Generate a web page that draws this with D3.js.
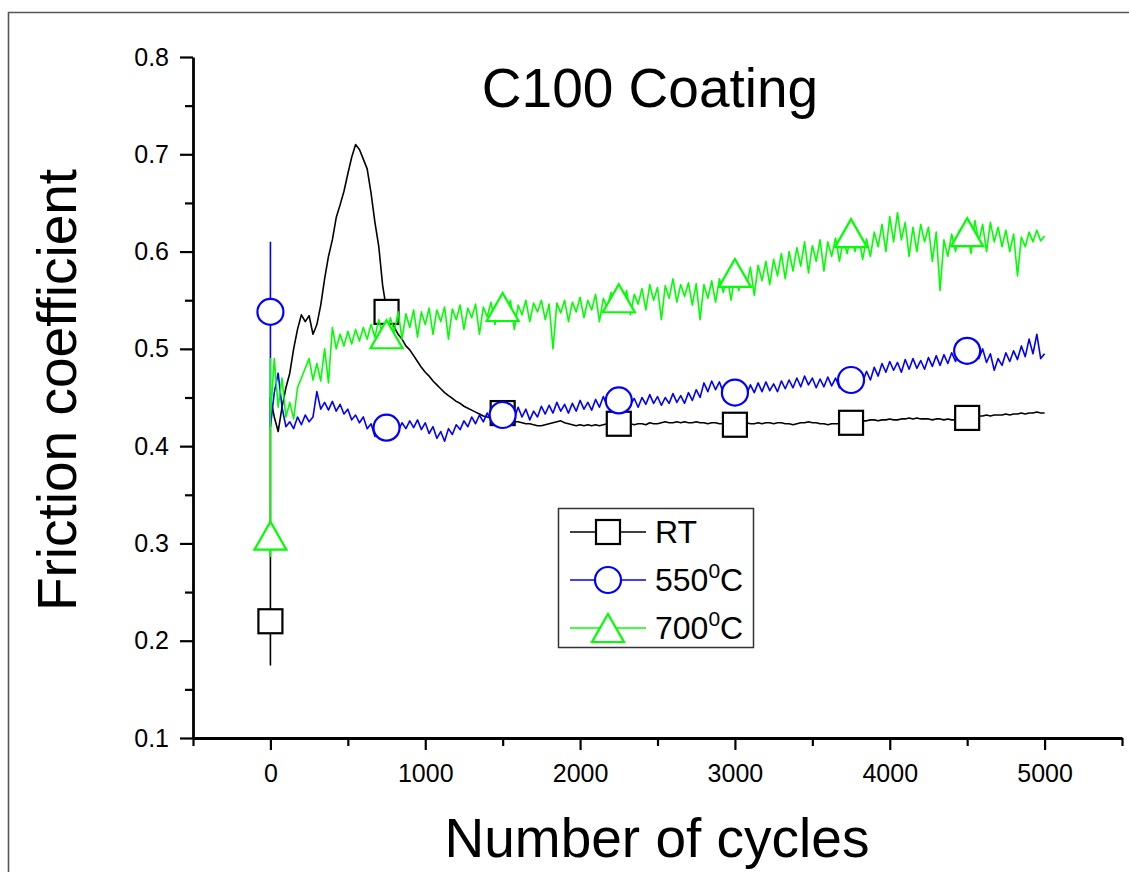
<!DOCTYPE html>
<html>
<head>
<meta charset="utf-8">
<script src="https://cdn.jsdelivr.net/npm/d3@7"></script>
<style>
body{margin:0;background:#fff;}
svg text{font-family:Arial,"Liberation Sans",sans-serif;fill:#000;}
</style>
</head>
<body>
<div id="chart"></div>
<script>
// cycle grid of the recorded curves
var cycles = [
0,25,50,75,100,125,150,175,200,225,
250,275,300,325,350,375,400,425,450,475,
500,525,550,575,600,625,650,675,700,725,
750,775,800,825,850,875,900,925,950,975,
1000,1025,1050,1075,1100,1125,1150,1175,1200,1225,
1250,1275,1300,1325,1350,1375,1400,1425,1450,1475,
1500,1525,1550,1575,1600,1625,1650,1675,1700,1725,
1750,1775,1800,1825,1850,1875,1900,1925,1950,1975,
2000,2025,2050,2075,2100,2125,2150,2175,2200,2225,
2250,2275,2300,2325,2350,2375,2400,2425,2450,2475,
2500,2525,2550,2575,2600,2625,2650,2675,2700,2725,
2750,2775,2800,2825,2850,2875,2900,2925,2950,2975,
3000,3025,3050,3075,3100,3125,3150,3175,3200,3225,
3250,3275,3300,3325,3350,3375,3400,3425,3450,3475,
3500,3525,3550,3575,3600,3625,3650,3675,3700,3725,
3750,3775,3800,3825,3850,3875,3900,3925,3950,3975,
4000,4025,4050,4075,4100,4125,4150,4175,4200,4225,
4250,4275,4300,4325,4350,4375,4400,4425,4450,4475,
4500,4525,4550,4575,4600,4625,4650,4675,4700,4725,
4750,4775,4800,4825,4850,4875,4900,4925,4950,4975,
5000];

// RT
var rtHead = [0.22,0.175,0.45];
var rtValues = [
0.45,0.43,0.415,0.44,0.46,0.475,0.50,0.52,0.535,0.528,
0.534,0.515,0.525,0.545,0.572,0.595,0.612,0.635,0.648,0.662,
0.68,0.697,0.71,0.705,0.695,0.685,0.66,0.63,0.605,0.565,
0.54,0.53,0.522,0.515,0.51,0.503,0.499,0.493,0.487,0.481,
0.476,0.472,0.467,0.463,0.459,0.455,0.452,0.449,0.446,0.444,
0.441,0.439,0.437,0.435,0.433,0.431,0.430,0.429,0.428,0.428,
0.428,0.427,0.426,0.425,0.425,0.424,0.423,0.423,0.422,0.421,
0.421,0.422,0.423,0.424,0.425,0.426,0.424,0.423,0.422,0.421,
0.422,0.421,0.422,0.421,0.422,0.421,0.422,0.423,0.422,0.422,
0.423,0.423,0.422,0.423,0.422,0.423,0.423,0.422,0.424,0.423,
0.423,0.424,0.425,0.424,0.424,0.425,0.424,0.425,0.424,0.424,
0.425,0.424,0.424,0.423,0.424,0.424,0.423,0.423,0.422,0.422,
0.422,0.423,0.423,0.424,0.423,0.423,0.424,0.423,0.424,0.424,
0.423,0.424,0.424,0.423,0.423,0.422,0.423,0.424,0.424,0.425,
0.424,0.424,0.423,0.423,0.422,0.423,0.423,0.423,0.423,0.423,
0.424,0.425,0.425,0.426,0.426,0.427,0.427,0.426,0.427,0.427,
0.428,0.427,0.427,0.428,0.428,0.429,0.428,0.429,0.428,0.428,
0.428,0.427,0.428,0.428,0.427,0.428,0.427,0.427,0.427,0.428,
0.429,0.430,0.431,0.431,0.431,0.432,0.431,0.432,0.432,0.432,
0.433,0.432,0.433,0.433,0.434,0.433,0.434,0.434,0.435,0.434,
0.434];

// 550 C
var t550Head = [0.61,0.538,0.42];
var t550Values = [
0.42,0.455,0.475,0.44,0.42,0.425,0.418,0.43,0.422,0.432,
0.425,0.43,0.456,0.438,0.445,0.437,0.446,0.436,0.443,0.433,
0.438,0.427,0.432,0.424,0.43,0.418,0.423,0.41,0.42,0.415,
0.419,0.414,0.422,0.415,0.424,0.418,0.426,0.419,0.427,0.417,
0.424,0.413,0.42,0.408,0.415,0.405,0.418,0.412,0.422,0.417,
0.426,0.42,0.43,0.423,0.432,0.425,0.434,0.427,0.435,0.428,
0.432,0.426,0.437,0.429,0.44,0.43,0.438,0.427,0.436,0.43,
0.441,0.433,0.442,0.434,0.445,0.436,0.443,0.434,0.444,0.436,
0.447,0.438,0.445,0.437,0.448,0.44,0.451,0.441,0.45,0.442,
0.447,0.441,0.452,0.443,0.449,0.44,0.45,0.443,0.453,0.444,
0.451,0.442,0.45,0.444,0.454,0.445,0.452,0.444,0.455,0.447,
0.458,0.45,0.465,0.456,0.467,0.458,0.466,0.455,0.463,0.452,
0.455,0.452,0.461,0.453,0.463,0.455,0.465,0.456,0.466,0.457,
0.464,0.456,0.467,0.459,0.468,0.46,0.47,0.461,0.472,0.463,
0.47,0.46,0.469,0.461,0.471,0.462,0.47,0.46,0.468,0.462,
0.468,0.463,0.474,0.466,0.477,0.468,0.481,0.472,0.485,0.476,
0.487,0.478,0.486,0.476,0.489,0.479,0.49,0.48,0.488,0.479,
0.491,0.482,0.493,0.483,0.494,0.485,0.496,0.487,0.499,0.49,
0.498,0.492,0.502,0.49,0.5,0.486,0.495,0.478,0.49,0.483,
0.496,0.487,0.498,0.489,0.503,0.492,0.51,0.495,0.515,0.49,
0.495];

// 700 C
var t700Head = [0.286,0.308,0.49];
var t700Values = [
0.43,0.49,0.44,0.47,0.43,0.445,0.428,0.46,0.47,0.48,
0.49,0.468,0.485,0.467,0.5,0.465,0.522,0.5,0.515,0.503,
0.518,0.505,0.52,0.508,0.522,0.51,0.525,0.512,0.53,0.514,
0.512,0.532,0.518,0.538,0.51,0.536,0.522,0.54,0.512,0.538,
0.525,0.542,0.515,0.54,0.528,0.543,0.51,0.541,0.53,0.545,
0.52,0.542,0.532,0.546,0.515,0.543,0.533,0.548,0.525,0.545,
0.543,0.536,0.55,0.52,0.545,0.535,0.55,0.528,0.547,0.538,
0.55,0.53,0.546,0.5,0.547,0.537,0.55,0.528,0.548,0.538,
0.553,0.532,0.55,0.54,0.556,0.528,0.552,0.542,0.558,0.538,
0.553,0.545,0.56,0.535,0.556,0.546,0.562,0.54,0.566,0.55,
0.563,0.53,0.565,0.552,0.572,0.548,0.566,0.554,0.568,0.545,
0.567,0.53,0.566,0.552,0.57,0.548,0.572,0.558,0.575,0.55,
0.578,0.56,0.576,0.565,0.584,0.555,0.586,0.57,0.59,0.566,
0.592,0.575,0.598,0.572,0.6,0.58,0.604,0.585,0.61,0.578,
0.606,0.59,0.612,0.58,0.61,0.595,0.614,0.59,0.612,0.598,
0.619,0.6,0.615,0.592,0.613,0.595,0.62,0.605,0.628,0.6,
0.636,0.61,0.64,0.612,0.63,0.595,0.625,0.6,0.628,0.61,
0.625,0.59,0.62,0.56,0.612,0.595,0.618,0.6,0.622,0.605,
0.62,0.598,0.632,0.61,0.628,0.6,0.63,0.61,0.625,0.605,
0.622,0.6,0.618,0.575,0.615,0.605,0.62,0.61,0.622,0.611,
0.616];

// symbols every 750 cycles
var markCycles = [0,750,1500,2250,3000,3750,4500];
var rtMarks = [0.22,0.538,0.434,0.423,0.422,0.424,0.429];
var t550Marks = [0.538,0.419,0.432,0.447,0.455,0.468,0.498];
var t700Marks = [0.308,0.515,0.543,0.552,0.578,0.619,0.62];

var xMajor = [0,1000,2000,3000,4000,5000];
var xMinor = [-500,500,1500,2500,3500,4500,5500];
var yMajor = [0.1,0.2,0.3,0.4,0.5,0.6,0.7,0.8];
var yMinor = [0.15,0.25,0.35,0.45,0.55,0.65,0.75];

var width = 1129;
var height = 872;

var svg = d3.select("#chart").append("svg")
    .attr("width", width)
    .attr("height", height);

// outer frame (only top and left show in the picture)
svg.append("path")
    .attr("d", "M8.5,872V12.5H1129")
    .attr("fill", "none")
    .attr("stroke", "#555")
    .attr("stroke-width", 1.6);

var x = d3.scaleLinear().domain([-500,5500]).range([193,1122]);
var y = d3.scaleLinear().domain([0.1,0.8]).range([738,57]);

// minor ticks
svg.append("g")
    .attr("transform", "translate(0,738)")
    .call(d3.axisBottom(x).tickValues(xMinor).tickSize(8).tickFormat(""))
    .call(g => g.select(".domain").remove())
    .selectAll("line").attr("stroke-width", 2.2);
svg.append("g")
    .attr("transform", "translate(193,0)")
    .call(d3.axisLeft(y).tickValues(yMinor).tickSize(8).tickFormat(""))
    .call(g => g.select(".domain").remove())
    .selectAll("line").attr("stroke-width", 2.2);

// major axes
var xAxis = svg.append("g")
    .attr("transform", "translate(0,738)")
    .call(d3.axisBottom(x).tickValues(xMajor).tickSize(12).tickPadding(14).tickSizeOuter(0)
        .tickFormat(d3.format("d")));
xAxis.select(".domain").attr("stroke-width", 2.8);
xAxis.selectAll(".tick line").attr("stroke-width", 2.2);
xAxis.selectAll("text").style("font-size", "25px").attr("font-family", null);

var yAxis = svg.append("g")
    .attr("transform", "translate(193,0)")
    .call(d3.axisLeft(y).tickValues(yMajor).tickSize(13).tickPadding(11).tickSizeOuter(0)
        .tickFormat(d3.format(".1f")));
yAxis.select(".domain").attr("stroke-width", 2.8);
yAxis.selectAll(".tick line").attr("stroke-width", 2.2);
yAxis.selectAll("text").style("font-size", "25px").attr("font-family", null);

// titles
svg.append("text")
    .attr("x", 650).attr("y", 107)
    .attr("text-anchor", "middle")
    .style("font-size", "55px")
    .text("C100 Coating");

svg.append("text")
    .attr("transform", "translate(76,390) rotate(-90)")
    .attr("text-anchor", "middle")
    .style("font-size", "55px")
    .text("Friction coefficient");

svg.append("text")
    .attr("x", 657).attr("y", 857)
    .attr("text-anchor", "middle")
    .style("font-size", "55px")
    .text("Number of cycles");

// series
var series = [
    {name:"RT", color:"#000000", head:rtHead, values:rtValues, marks:rtMarks, shape:"square"},
    {name:"550", color:"#0000ff", head:t550Head, values:t550Values, marks:t550Marks, shape:"circle"},
    {name:"700", color:"#00ff00", head:t700Head, values:t700Values, marks:t700Marks, shape:"triangle"}
];

var line = d3.line()
    .x(d => x(d[0]))
    .y(d => y(d[1]));

function symbol(g, shape, color) {
    if (shape == "square") {
        g.append("rect").attr("x", -12).attr("y", -12).attr("width", 24).attr("height", 24);
    } else if (shape == "circle") {
        g.append("circle").attr("r", 13);
    } else {
        g.append("path").attr("d", "M0,-14L16,14H-16Z");
    }
    g.selectAll("*")
        .attr("fill", "#fff")
        .attr("stroke", color)
        .attr("stroke-width", 2.2);
}

series.forEach(function(s) {
    var pts = s.head.map(v => [0, v]).concat(s.values.map((v, i) => [cycles[i], v]));
    svg.append("path")
        .datum(pts)
        .attr("d", line)
        .attr("fill", "none")
        .attr("stroke", s.color)
        .attr("stroke-width", 1.6)
        .attr("stroke-linejoin", "round");

    svg.selectAll(null)
        .data(markCycles)
        .enter().append("g")
        .attr("transform", (d, i) => "translate(" + x(d) + "," + y(s.marks[i]) + ")")
        .each(function() { symbol(d3.select(this), s.shape, s.color); });
});

// legend
var legend = svg.append("g");
legend.append("rect")
    .attr("x", 558.5).attr("y", 508.5)
    .attr("width", 195).attr("height", 139)
    .attr("fill", "#fff")
    .attr("stroke", "#333")
    .attr("stroke-width", 1.5);

var legendY = [532, 580, 628];
series.forEach(function(s, i) {
    var row = legend.append("g").attr("transform", "translate(0," + legendY[i] + ")");
    row.append("line")
        .attr("x1", 570).attr("x2", 646)
        .attr("stroke", s.color).attr("stroke-width", 1.5);
    symbol(row.append("g").attr("transform", "translate(608,0)"), s.shape, s.color);
    var t = row.append("text")
        .attr("x", 655).attr("y", 11)
        .style("font-size", "32px");
    if (s.name == "RT") {
        t.text("RT");
    } else {
        t.append("tspan").text(s.name);
        t.append("tspan").attr("dy", -13).style("font-size", "21px").text("0");
        t.append("tspan").attr("dy", 13).text("C");
    }
});
</script>
</body>
</html>
